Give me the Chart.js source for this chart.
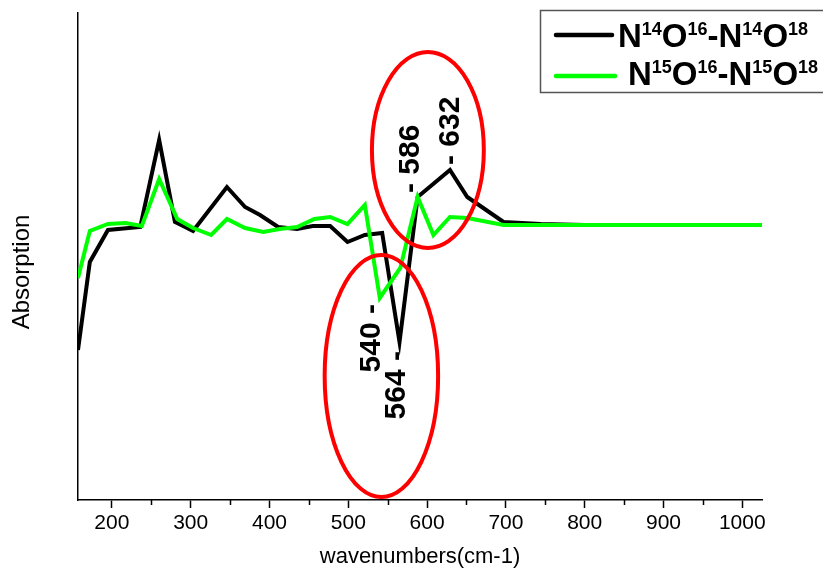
<!DOCTYPE html>
<html>
<head>
<meta charset="utf-8">
<title>Absorption spectra</title>
<script src="https://cdn.jsdelivr.net/npm/chart.js@4.4.0/dist/chart.umd.min.js"></script>
<style>
    html, body { margin: 0; padding: 0; background: #fff; }
    canvas { display: block; }
</style>
</head>
<body>
<canvas id="spectrumChart" width="823" height="575"></canvas>
<script>
// values: wavenumber (cm-1) and absorption (arb. units)
const n14Wavenumbers = [157, 172, 195, 236, 260, 280, 303, 346, 369, 388, 411, 435, 455, 477, 499, 521, 543, 565, 588, 629, 651, 697, 744, 800, 850, 900, 950, 1000, 1025];
const n14Absorption  = [1.50, 2.38, 2.70, 2.73, 3.60, 2.78, 2.69, 3.13, 2.93, 2.85, 2.73, 2.71, 2.74, 2.74, 2.58, 2.65, 2.67, 1.58, 3.03, 3.30, 3.03, 2.78, 2.76, 2.75, 2.75, 2.75, 2.75, 2.75, 2.75];

const n15Wavenumbers = [157, 172, 195, 217, 238, 260, 283, 303, 326, 346, 369, 392, 413, 435, 457, 477, 499, 521, 540, 566, 588, 608, 629, 651, 697, 744, 800, 850, 900, 950, 1000, 1025];
const n15Absorption  = [2.22, 2.69, 2.76, 2.77, 2.74, 3.21, 2.81, 2.72, 2.65, 2.81, 2.72, 2.68, 2.71, 2.73, 2.81, 2.83, 2.76, 2.95, 2.02, 2.32, 3.03, 2.65, 2.83, 2.82, 2.75, 2.75, 2.75, 2.75, 2.75, 2.75, 2.75, 2.75];

const seriesLabels = ["N14O16-N14O18", "N15O16-N15O18"];

const xTickValues = [200, 300, 400, 500, 600, 700, 800, 900, 1000];
const xMinorTicks = [250, 350, 450, 550, 650, 750, 850, 950];

// marked peaks
const peakLabels = ["540", "564", "586", "632"];
const peakWavenumbers = [540, 564, 586, 632];
const peakAbsorption = [2.02, 1.58, 3.03, 3.30];

// red circled regions: centre and half size in data units
const regionCentres = [[601, 3.50], [542, 1.24]];
const regionHalfSizes = [[71, 0.98], [72, 1.21]];

const FONT = "'Liberation Sans', Arial, Helvetica, sans-serif";
Chart.defaults.font.family = FONT;
Chart.defaults.color = "#000";

// where each peak label sits relative to its point (px)
const labelPlacement = [
    { below: true,  dx: -8, gap: 6 },
    { below: true,  dx: -2, gap: 9 },
    { below: false, dx: -5, gap: 4 },
    { below: false, dx: -2, gap: 5 }
];

function drawRichLabel(ctx, text, x, baseline) {
    // digits in the series names are isotope superscripts
    const runs = text.match(/\d+|\D+/g);
    runs.forEach(run => {
        const isSup = /\d/.test(run);
        ctx.font = isSup ? `bold 18px ${FONT}` : `bold 33px ${FONT}`;
        ctx.fillText(run, x, isSup ? baseline - 12 : baseline);
        x += ctx.measureText(run).width;
    });
}

const decorations = {
    id: "decorations",
    afterDatasetsDraw(chart) {
        const { ctx, scales: { x, y } } = chart;
        ctx.save();

        ctx.strokeStyle = "#ff0000";
        ctx.lineWidth = 4;
        regionCentres.forEach((c, i) => {
            const cx = x.getPixelForValue(c[0]);
            const cy = y.getPixelForValue(c[1]);
            const rx = x.getPixelForValue(c[0] + regionHalfSizes[i][0]) - cx;
            const ry = cy - y.getPixelForValue(c[1] + regionHalfSizes[i][1]);
            ctx.beginPath();
            ctx.ellipse(cx, cy, rx, ry, 0, 0, Math.PI * 2);
            ctx.stroke();
        });

        ctx.fillStyle = "#000";
        ctx.font = `bold 30px ${FONT}`;
        ctx.textBaseline = "middle";
        peakLabels.forEach((label, i) => {
            const p = labelPlacement[i];
            const px = x.getPixelForValue(peakWavenumbers[i]) + p.dx;
            const py = y.getPixelForValue(peakAbsorption[i]) + (p.below ? p.gap : -p.gap);
            ctx.save();
            ctx.translate(px, py);
            ctx.rotate(-Math.PI / 2);
            if (p.below) {
                ctx.textAlign = "right";
                ctx.fillText(label + " -", 0, 0);
            } else {
                ctx.textAlign = "left";
                ctx.fillText("- " + label, 0, 0);
            }
            ctx.restore();
        });
        ctx.restore();
    },
    afterDraw(chart) {
        const { ctx, scales: { x, y } } = chart;
        ctx.save();

        // minor ticks on the x axis
        ctx.strokeStyle = "#000";
        ctx.lineWidth = 1.5;
        xMinorTicks.forEach(v => {
            const px = Math.round(x.getPixelForValue(v)) + 0.5;
            ctx.beginPath();
            ctx.moveTo(px, y.bottom);
            ctx.lineTo(px, y.bottom + 5);
            ctx.stroke();
        });

        // y axis title
        ctx.fillStyle = "#000";
        ctx.font = `24px ${FONT}`;
        ctx.textAlign = "center";
        ctx.textBaseline = "middle";
        ctx.save();
        ctx.translate(22, 272);
        ctx.rotate(-Math.PI / 2);
        ctx.fillText("Absorption", 0, 0);
        ctx.restore();

        // legend box
        ctx.fillStyle = "#fff";
        ctx.fillRect(540, 10, 300, 82);
        ctx.strokeStyle = "#555";
        ctx.lineWidth = 1.5;
        ctx.strokeRect(540.5, 10.5, 300, 82);

        const rows = [
            { color: "#000", lineEnd: 612, textX: 618, lineY: 35, baseline: 47 },
            { color: "#00ff00", lineEnd: 615, textX: 628, lineY: 76, baseline: 85 }
        ];
        rows.forEach((r, i) => {
            ctx.strokeStyle = r.color;
            ctx.lineWidth = 4.5;
            ctx.lineCap = "round";
            ctx.beginPath();
            ctx.moveTo(556, r.lineY);
            ctx.lineTo(r.lineEnd, r.lineY);
            ctx.stroke();
            ctx.fillStyle = "#000";
            ctx.textAlign = "left";
            ctx.textBaseline = "alphabetic";
            drawRichLabel(ctx, seriesLabels[i], r.textX, r.baseline);
        });
        ctx.restore();
    }
};

new Chart(document.getElementById("spectrumChart"), {
    type: "line",
    data: {
        datasets: [
            {
                label: seriesLabels[0],
                data: n14Wavenumbers.map((w, i) => ({ x: w, y: n14Absorption[i] })),
                borderColor: "#000",
                borderWidth: 4,
                pointRadius: 0,
                tension: 0,
                order: 1
            },
            {
                label: seriesLabels[1],
                data: n15Wavenumbers.map((w, i) => ({ x: w, y: n15Absorption[i] })),
                borderColor: "#00ff00",
                borderWidth: 4,
                pointRadius: 0,
                tension: 0,
                order: 0
            }
        ]
    },
    options: {
        responsive: false,
        animation: false,
        devicePixelRatio: 1,
        layout: { padding: { top: 13, right: 61, left: 0, bottom: 0 } },
        plugins: {
            legend: { display: false },
            tooltip: { enabled: false }
        },
        scales: {
            x: {
                type: "linear",
                min: 157,
                max: 1025,
                afterBuildTicks: scale => { scale.ticks = xTickValues.map(v => ({ value: v })); },
                afterFit: scale => { scale.height = 75; },
                border: { display: true, color: "#000", width: 1.5 },
                grid: { drawOnChartArea: false, drawTicks: true, tickLength: 8, tickColor: "#000", tickWidth: 1.5 },
                ticks: { font: { size: 21 }, color: "#000", padding: 3, maxRotation: 0, callback: v => String(v) },
                title: { display: true, text: "wavenumbers(cm-1)", font: { size: 22 }, color: "#000", padding: { top: 0, bottom: 5 } }
            },
            y: {
                min: 0,
                max: 4.87,
                afterFit: scale => { scale.width = 78; },
                border: { display: true, color: "#000", width: 1.5 },
                grid: { display: false },
                ticks: { display: false }
            }
        }
    },
    plugins: [decorations]
});
</script>
</body>
</html>
